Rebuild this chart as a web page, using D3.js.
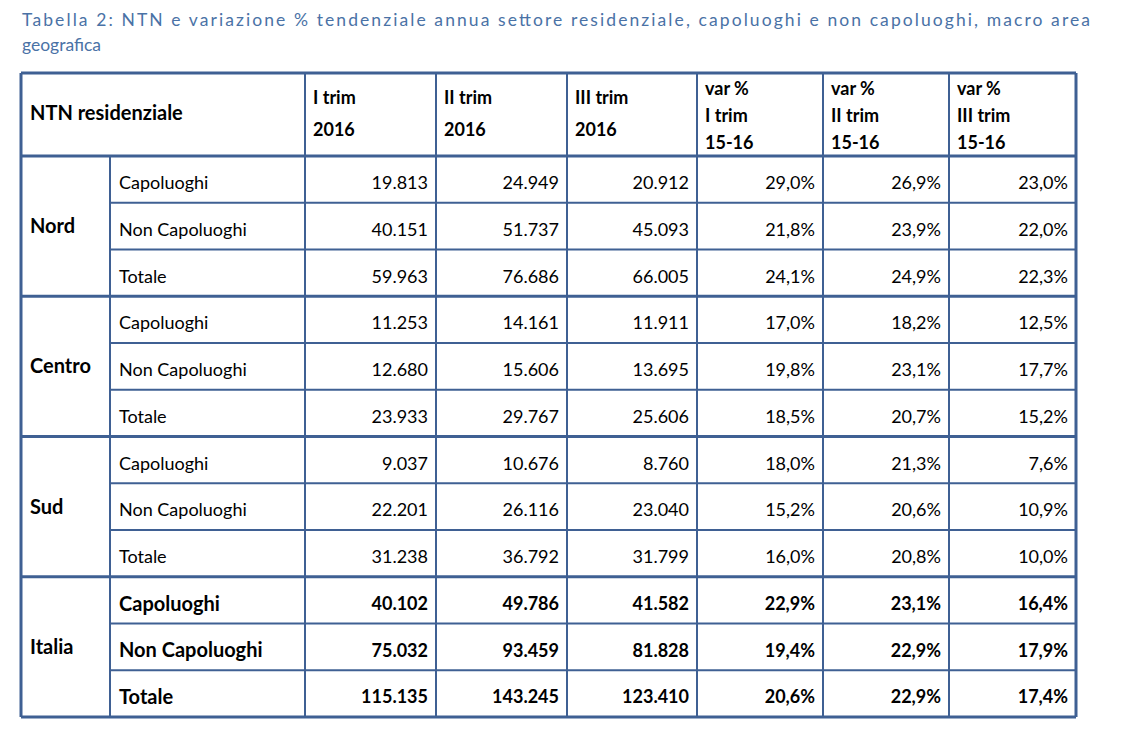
<!DOCTYPE html>
<html><head><meta charset="utf-8">
<script src="https://cdn.jsdelivr.net/npm/d3@7"></script>
<style>body{margin:0;background:#fff}</style>
</head><body>
<svg id="chart" width="1136" height="732"></svg>
<script>
const titleLines = ['Tabella 2: NTN e variazione % tendenziale annua settore residenziale, capoluoghi e non capoluoghi, macro area', 'geografica']
const headers = [['I trim', '2016'], ['II trim', '2016'], ['III trim', '2016'], ['var %', 'I trim', '15-16'], ['var %', 'II trim', '15-16'], ['var %', 'III trim', '15-16']]
const regions = ['Nord', 'Centro', 'Sud', 'Italia']
const subRows = ['Capoluoghi', 'Non Capoluoghi', 'Totale']
const values = [
  ['19.813', '24.949', '20.912', '29,0%', '26,9%', '23,0%'],
  ['40.151', '51.737', '45.093', '21,8%', '23,9%', '22,0%'],
  ['59.963', '76.686', '66.005', '24,1%', '24,9%', '22,3%'],
  ['11.253', '14.161', '11.911', '17,0%', '18,2%', '12,5%'],
  ['12.680', '15.606', '13.695', '19,8%', '23,1%', '17,7%'],
  ['23.933', '29.767', '25.606', '18,5%', '20,7%', '15,2%'],
  ['9.037', '10.676', '8.760', '18,0%', '21,3%', '7,6%'],
  ['22.201', '26.116', '23.040', '15,2%', '20,6%', '10,9%'],
  ['31.238', '36.792', '31.799', '16,0%', '20,8%', '10,0%'],
  ['40.102', '49.786', '41.582', '22,9%', '23,1%', '16,4%'],
  ['75.032', '93.459', '81.828', '19,4%', '22,9%', '17,9%'],
  ['115.135', '143.245', '123.410', '20,6%', '22,9%', '17,4%']
]

const colEdges = [21, 110, 305, 436, 567, 697, 823, 949, 1076]
const svg = d3.select('#chart')
const line = '#3f6093'
const font = 'Lato, "Open Sans", sans-serif'

svg.selectAll('text.title').data(titleLines).enter().append('text')
  .attr('x', 22).attr('y', (d, i) => 26 + i * 25)
  .attr('fill', '#4a72a6').style('font-family', font).style('font-size', '17.5px')
  .attr('textLength', (d, i) => i === 0 ? 1068 : null)
  .attr('lengthAdjust', 'spacing')
  .text(d => d)

const tableTop = 73, headBottom = 156, tableBottom = 717
const y = d3.scaleLinear().domain([0, values.length]).range([headBottom, tableBottom])

const g = svg.append('g')

// data cells
values.forEach((row, r) => {
  const bold = r >= 9
  const ty = bold ? y(r + 1) - 13 : y(r) + 33
  g.append('text').attr('x', colEdges[1] + 9).attr('y', ty)
    .style('font-family', font).style('font-size', bold ? '20px' : '18px')
    .style('font-weight', bold ? 700 : 400).text(subRows[r % 3])
  row.forEach((v, c) => {
    g.append('text').attr('x', colEdges[c + 3] - 8).attr('y', bold ? y(r) + 33 : ty)
      .attr('text-anchor', 'end')
      .style('font-family', font).style('font-size', '18px')
      .style('font-weight', bold ? 700 : 400).text(v)
  })
})

regions.forEach((reg, i) => {
  g.append('text').attr('x', 30).attr('y', (y(i * 3) + y(i * 3 + 3)) / 2 + 7)
    .style('font-family', font).style('font-size', '20px').style('font-weight', 700).text(reg)
})

// header
g.append('text').attr('x', 30).attr('y', 120).style('font-family', font)
  .style('font-size', '20px').style('font-weight', 700).text('NTN residenziale')
headers.forEach((h, c) => {
  const ys = h.length === 2 ? [104, 136] : [95, 122, 149]
  h.forEach((t, k) => g.append('text').attr('x', colEdges[c + 2] + 8).attr('y', ys[k])
    .style('font-family', font).style('font-size', '18px').style('font-weight', 700).text(t))
})

// grid lines
d3.range(values.length + 1).forEach(r => {
  const major = r % 3 === 0
  g.append('line').attr('x1', major ? colEdges[0] : colEdges[1]).attr('x2', colEdges[8])
    .attr('y1', y(r)).attr('y2', y(r)).attr('stroke', line).attr('stroke-width', major ? 3 : 2)
})
colEdges.forEach((x, i) => {
  g.append('line').attr('x1', x).attr('x2', x)
    .attr('y1', i === 1 ? headBottom : tableTop).attr('y2', tableBottom)
    .attr('stroke', line).attr('stroke-width', i === 0 || i === 8 ? 3 : 2)
})
g.append('line').attr('x1', colEdges[0]).attr('x2', colEdges[8]).attr('y1', tableTop).attr('y2', tableTop)
  .attr('stroke', line).attr('stroke-width', 3)
</script>
</body></html>
